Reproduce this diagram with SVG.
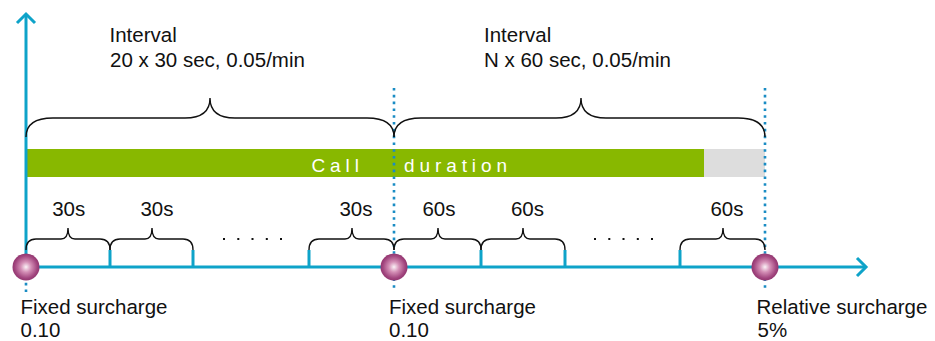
<svg xmlns="http://www.w3.org/2000/svg" width="935" height="341" viewBox="0 0 935 341">
<style>
  .t{font-family:"Liberation Sans",Arial,sans-serif;font-size:20.5px;fill:#111}
  .axis{stroke:#0ea3c9;stroke-width:3;fill:none}
  .tick{stroke:#0ea3c9;stroke-width:3}
  .dot{stroke:#1a8cc4;stroke-width:2.6;stroke-dasharray:2.6 4.2;fill:none}
  .brace{stroke:#111;stroke-width:1.4;fill:none}
  .bar{font-family:"Liberation Sans",Arial,sans-serif;font-size:19px;fill:#fff;letter-spacing:4.9px}
</style>
<defs>
  <radialGradient id="ball" cx="0.5" cy="0.5" r="0.55">
    <stop offset="0" stop-color="#fbf3f7"/>
    <stop offset="0.35" stop-color="#d48fb6"/>
    <stop offset="0.75" stop-color="#a2467f"/>
    <stop offset="1" stop-color="#8a2d67"/>
  </radialGradient>
</defs>

<g id="bar">
  <rect x="26" y="149" width="678" height="28" fill="#88b800"/>
  <rect x="704" y="149" width="61" height="28" fill="#dddddd"/>
  <text class="bar" x="311.5" y="171.5">Call</text>
  <text class="bar" x="404" y="171.5">duration</text>
</g>

<g id="connectors">
  <line class="dot" x1="394" y1="88" x2="394" y2="292"/>
  <line class="dot" x1="765" y1="88" x2="765" y2="292"/>
  <line class="dot" x1="26" y1="276" x2="26" y2="292"/>
  <line class="axis" x1="26" y1="267" x2="26" y2="14"/>
  <polyline class="axis" points="17,23 26,14 35,23"/>
  <line class="axis" x1="26" y1="267" x2="866" y2="267"/>
  <polyline class="axis" points="857,258 866,267 857,276"/>
  <line class="tick" x1="110" y1="250" x2="110" y2="267"/>
  <line class="tick" x1="193" y1="250" x2="193" y2="267"/>
  <line class="tick" x1="309" y1="250" x2="309" y2="267"/>
  <line class="tick" x1="481" y1="250" x2="481" y2="267"/>
  <line class="tick" x1="565" y1="250" x2="565" y2="267"/>
  <line class="tick" x1="680" y1="250" x2="680" y2="267"/>
</g>

<g id="braces">
  <path class="brace" d="M26,137 Q26,118 53,118 L185,118 Q210,118 210,98 Q210,118 235,118 L367,118 Q394,118 394,137"/>
  <path class="brace" d="M394,137 Q394,118 421,118 L556,118 Q581,118 581,98 Q581,118 606,118 L738,118 Q765,118 765,137"/>
  <path class="brace" d="M26,250 Q26,239 36,239 L61,239 Q68,239 68,228 Q68,239 75,239 L100,239 Q110,239 110,250"/>
  <path class="brace" d="M110,250 Q110,239 120,239 L145,239 Q152,239 152,228 Q152,239 159,239 L183,239 Q193,239 193,250"/>
  <path class="brace" d="M309,250 Q309,239 319,239 L345,239 Q352,239 352,228 Q352,239 359,239 L384,239 Q394,239 394,250"/>
  <path class="brace" d="M394,250 Q394,239 404,239 L431,239 Q438,239 438,228 Q438,239 445,239 L471,239 Q481,239 481,250"/>
  <path class="brace" d="M481,250 Q481,239 491,239 L516,239 Q523,239 523,228 Q523,239 530,239 L555,239 Q565,239 565,250"/>
  <path class="brace" d="M680,250 Q680,239 690,239 L716,239 Q723,239 723,228 Q723,239 730,239 L755,239 Q765,239 765,250"/>
</g>

<g id="ellipsis" fill="#111">
  <rect x="223" y="238" width="2" height="2"/><rect x="237.3" y="238" width="2" height="2"/><rect x="251.5" y="238" width="2" height="2"/><rect x="265.8" y="238" width="2" height="2"/><rect x="280" y="238" width="2" height="2"/>
  <rect x="594" y="238" width="2" height="2"/><rect x="608.3" y="238" width="2" height="2"/><rect x="622.5" y="238" width="2" height="2"/><rect x="636.8" y="238" width="2" height="2"/><rect x="651" y="238" width="2" height="2"/>
</g>

<g id="node-start">
  <circle cx="26" cy="267" r="13.5" fill="url(#ball)"/>
  <text class="t" x="20.5" y="314">Fixed surcharge</text>
  <text class="t" x="20.5" y="336.5">0.10</text>
</g>
<g id="node-mid">
  <circle cx="394" cy="267" r="13.5" fill="url(#ball)"/>
  <text class="t" x="389" y="314">Fixed surcharge</text>
  <text class="t" x="389" y="336.5">0.10</text>
</g>
<g id="node-end">
  <circle cx="765" cy="267" r="13.5" fill="url(#ball)"/>
  <text class="t" x="756.5" y="314">Relative surcharge</text>
  <text class="t" x="757.5" y="336.5">5%</text>
</g>

<g id="labels">
  <text class="t" x="109.5" y="42">Interval</text>
  <text class="t" x="110" y="66.5">20 x 30 sec, 0.05/min</text>
  <text class="t" x="484" y="42">Interval</text>
  <text class="t" x="484" y="66.5">N x 60 sec, 0.05/min</text>
  <g text-anchor="middle">
    <text class="t" x="68.7" y="216">30s</text>
    <text class="t" x="157" y="216">30s</text>
    <text class="t" x="356" y="216">30s</text>
    <text class="t" x="439" y="216">60s</text>
    <text class="t" x="527.5" y="216">60s</text>
    <text class="t" x="727" y="216">60s</text>
  </g>
</g>
</svg>
